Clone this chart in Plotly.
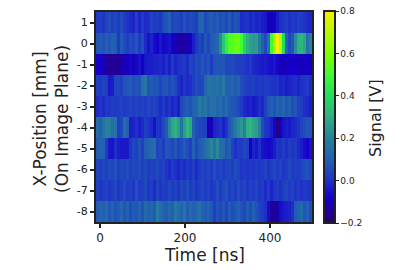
import plotly.graph_objects as go

row_p1 = [2,3,1,4,6,3,5,2,6,3,1,-1, -2,3,-2,2,-1,0,4,2,3,1,6,8, 10,4,6,5,3,7,4,6,5,3,11,12,
          5,8,9,7,9,6,8,5,9,4,8,6, -1,0,1,-2,0,-2,-1,-3,-4,-9,-10,-8, -3,0,1,3,0,2,1,3,2,1,-1,-2]
row_0 = [8,9,7,10,8,11,9,2,9,6,3,6, 4,8,2,6,-1,-5,-2,-6,-8,-4,-7,-6, -5,-8,-10,-13,-14,-11,-12,-8,-3,1,5,2,
         8,4,9,10,12,22,35,45,52,53,56,56, 50,38,30,27,25,26,18,10,5,15,50,68, 80,70,40,12,5,8,22,30,32,28,15,20]
row_m1 = [-8,-8,-10,-13,-15,-14,-16,-14,-12,-12,-9,-7, -10,-7,-5,-9,-4,-3,-3,-2,-2,-1,-3,0, -3,2,-2,0,1,2,-1,4,3,6,5,8,
          5,8,2,7,8,7,8,5,5,6,4,3, 3,2,0,2,-1,-2,-3,-4,-3,-5,-6,-4, -7,-9,-10,-9,-8,-9,-8,-9,-10,-9,-8,-10]
row_m2 = [3,2,4,3,-4,-3,4,5,3,7,8,9, 6,8,7,15,17,8,9,7,8,4,7,8, 5,7,5,0,-2,1,-1,0,3,6,4,5,
          12,16,15,14,16,13,18,10,10,12,9,11, 6,4,3,2,3,1,2,1,3,2,1,0, 1,-2,-1,-3,-2,-1,0,-2,0,1,2,-1]
row_m3 = [-1,1,-1,2,1,3,2,3,4,2,3,4, 2,4,3,4,2,5,3,4,2,-1,2,-1, 1,-2,0,-3,5,8,9,7,10,12,18,14,
          17,12,15,15,12,14,10,13,9,8,7,5, 2,-1,-3,-2,-4,-3,0,-2,3,8,10,7, 11,9,12,8,10,6,8,4,3,0,-1,-3]
row_m4 = [14,10,16,20,19,14,16,3,5,14,10,-3, -2,0,-3,-1,3,1,-1,-5,1,0,5,9, 22,28,31,26,16,26,33,28,10,6,5,4,
          3,-10,-10,-2,-1,1,-3,0,8,12,18,22, 25,20,30,32,28,26,20,6,1,0,-3,-7, -17,-10,-5,-3,-4,-2,-1,1,4,6,8,7]
row_m5 = [9,11,10,3,-4,-5,0,-3,-4,-4,-4,1, 5,3,7,3,9,11,13,14,4,6,2,8, 7,5,8,4,6,9,6,3,10,5,9,11,
          14,17,21,16,22,14,13,8,10,4,0,3, 2,5,3,-8,-2,-4,0,-5,-6,-7,-6,-3, 1,0,3,0,3,1,2,-1,-3,-6,-8,-5]
row_m6 = [4,3,5,3,6,4,7,3,5,4,6,3, 5,4,6,3,5,2,4,3,5,2,4,1, -1,2,0,-2,1,-1,2,0,3,-1,2,4,
          3,5,2,6,3,5,2,4,5,3,6,4, 1,2,1,2,1,3,1,2,4,1,3,5, 2,4,1,3,5,2,3,2,4,6,7,5]
row_m7 = [3,1,2,4,1,3,5,1,3,6,2,4, 1,7,2,3,5,1,3,-1,4,1,3,2, 5,2,4,1,5,3,6,2,4,1,3,5,
          2,4,1,3,6,2,5,7,3,5,2,6, 3,5,1,4,2,5,1,3,-1,2,-2,1, 3,0,3,5,2,4,1,3,0,2,1,0]
row_m8 = [9,12,10,13,8,11,7,9,12,8,10,6, 9,8,11,7,13,10,12,9,19,14,11,9, 13,10,17,14,12,16,9,13,10,12,15,11,
          9,11,8,3,7,5,8,4,9,6,8,10, 7,5,9,6,10,7,4,2,0,-6,-14,-15, -12,-6,-4,-3,-2,0,9,11,13,8,10,6]

signal_mv = [row_p1, row_0, row_m1, row_m2, row_m3, row_m4, row_m5, row_m6, row_m7, row_m8]
signal_v = [[v / 100 for v in r] for r in signal_mv]
positions = [1, 0, -1, -2, -3, -4, -5, -6, -7, -8]
time_tick_vals = [0, 200, 400]
y_tick_text = ["1", "0", "-1", "-2", "-3", "-4", "-5", "-6", "-7", "-8"]
cb_vals = [-0.2, 0.0, 0.2, 0.4, 0.6, 0.8]
cb_text = ["\u22120.2", "0.0", "0.2", "0.4", "0.6", "0.8"]

colors = [[0.0, "#2a0070"], [0.12, "#1400c8"], [0.2, "#1e30c8"], [0.3, "#2260b2"],
          [0.4, "#26809c"], [0.5, "#30ae84"], [0.6, "#26dc5c"], [0.7, "#40fc30"],
          [0.8, "#80ff00"], [0.9, "#b8f800"], [1.0, "#f4f000"]]

L, T = 96, 10
PW, PH = 216, 212
W, H = 416, 270
R, B = W - L - PW, H - T - PH
INK = "#222222"

def px(x): return (x - L) / PW
def py(y): return 1 - (y - T) / PH

fig = go.Figure(go.Heatmap(
    z=signal_v, y=positions, x0=-9.4 + 3.53, dx=7.06,
    zmin=-0.2, zmax=0.8, colorscale=colors,
    colorbar=dict(
        x=px(324), xanchor="left", y=0.5, yanchor="middle",
        thickness=11, thicknessmode="pixels", len=212, lenmode="pixels",
        outlinewidth=2, outlinecolor=INK, xpad=0, ypad=0,
        tickmode="array", tickvals=cb_vals, ticktext=cb_text,
        ticks="outside", ticklen=3, tickwidth=1, tickcolor=INK,
        ticklabeloverflow="allow",
        tickfont=dict(family="DejaVu Sans", size=9, color=INK),
    ),
))
fig.update_layout(
    width=W, height=H, margin=dict(l=L, r=R, t=T, b=B),
    paper_bgcolor="white", plot_bgcolor="white",
    font=dict(family="DejaVu Sans", color=INK),
    xaxis=dict(range=[-9.4, 498.9], tickmode="array", tickvals=time_tick_vals,
               ticks="outside", ticklen=4, tickwidth=1.5, tickcolor=INK,
               tickfont=dict(size=12), showgrid=False, zeroline=False,
               showline=True, linewidth=2, linecolor=INK, mirror=True),
    yaxis=dict(range=[-8.5, 1.5], tickmode="array", tickvals=positions, ticktext=y_tick_text,
               ticks="outside", ticklen=4, tickwidth=1.5, tickcolor=INK,
               tickfont=dict(size=11), showgrid=False, zeroline=False,
               showline=True, linewidth=2, linecolor=INK, mirror=True),
    annotations=[
        dict(text="Time [ns]", x=px(204), y=py(255), xref="paper", yref="paper", showarrow=False,
             xanchor="center", yanchor="middle", font=dict(size=17)),
        dict(text="X-Position [mm]<br>(On Image Plane)", x=px(51), y=py(118), xref="paper", yref="paper",
             showarrow=False, textangle=-90, xanchor="center", yanchor="middle", font=dict(size=17)),
        dict(text="Signal [V]", x=px(376), y=py(117), xref="paper", yref="paper", showarrow=False,
             textangle=-90, xanchor="center", yanchor="middle", font=dict(size=16)),
    ],
)
fig.write_html("out.html", post_script="document.body.style.margin='0';",
               config={"displayModeBar": False})
